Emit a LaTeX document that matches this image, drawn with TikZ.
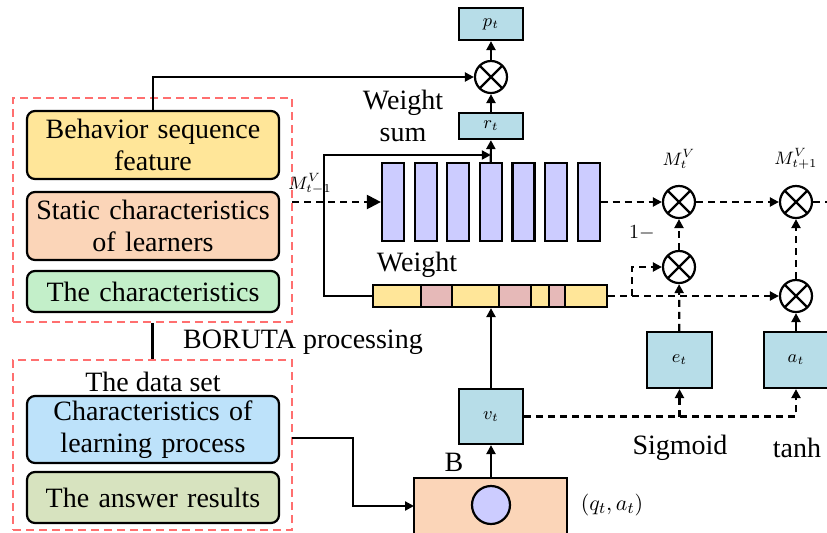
\documentclass[tikz,border=0pt]{standalone}
\usepackage{fontspec}
\setmainfont{Liberation Serif}
\usetikzlibrary{arrows.meta}

\definecolor{featyellow}{HTML}{FFE699}
\definecolor{featpeach}{HTML}{FBD5B8}
\definecolor{featgreen}{HTML}{C3EFC9}
\definecolor{featblue}{HTML}{BDE2FA}
\definecolor{featolive}{HTML}{D7E3BF}
\definecolor{cellblue}{HTML}{B7DDE8}
\definecolor{barpurple}{HTML}{CCCCFF}
\definecolor{segpink}{HTML}{E6B9B8}
\definecolor{redline}{HTML}{FF6F6F}

\tikzstyle{feat} = [draw, rounded corners=4pt, line width=1.1pt, minimum width=126pt, text width=124pt, text centered, inner sep=0pt]
\tikzstyle{group} = [draw=redline, dash pattern=on 4pt off 2.5pt, line width=0.9pt, inner sep=0pt]
\tikzstyle{cell} = [draw, fill=cellblue, line width=1.1pt, inner sep=0pt, font=\fontsize{9}{11}\selectfont]
\tikzstyle{mul} = [draw, circle, line width=1.1pt, minimum size=16pt, inner sep=0pt,
  path picture={\draw[line width=1.1pt] (path picture bounding box.north west) -- (path picture bounding box.south east)
  (path picture bounding box.north east) -- (path picture bounding box.south west);}]
\tikzstyle{bar} = [draw, fill=barpurple, line width=1.1pt, minimum width=11pt, minimum height=39pt, inner sep=0pt]
\tikzstyle{lbl} = [inner sep=0pt, font=\fontsize{9}{11}\selectfont]
\tikzstyle{arr} = [line width=1.1pt, -{Triangle[length=4.5pt,width=4.5pt]}]
\tikzstyle{darr} = [arr, dash pattern=on 3.5pt off 2.5pt]
\tikzstyle{dline} = [line width=1.1pt, dash pattern=on 3.5pt off 2.5pt]

\begin{document}
\begin{tikzpicture}[x=0.5pt, y=-0.5pt, font=\fontsize{14}{16}\selectfont]
\clip (0,0) rectangle (827,532);

% feature groups
\node[group, minimum width=139.5pt, minimum height=112pt] (grp1) at (152.5,210) {};
\node[group, minimum width=139.5pt, minimum height=85pt] (grp2) at (152.5,445) {};
\node[feat, fill=featyellow, minimum height=34pt] (feat1) at (153,145) {Behavior sequence\\feature};
\node[feat, fill=featpeach, minimum height=34pt] (feat2) at (153,226) {Static characteristics\\of learners};
\node[feat, fill=featgreen, minimum height=20.5pt] (feat3) at (153,291.5) {The characteristics};
\node (dset) at (153,382) {The data set};
\node[feat, fill=featblue, minimum height=33.5pt] (feat4) at (153,429.5) {Characteristics of\\learning process};
\node[feat, fill=featolive, minimum height=25.5pt] (feat5) at (153,497.5) {The answer results};
\node (boruta) at (303,342) {BORUTA processing};
\draw[line width=1.1pt] (grp1.south) -- (grp2.north);

% output
\node[cell, minimum width=32pt, minimum height=16pt] (pt) at (491,24) {$p_t$};
\node[mul] (mul0) at (491,77) {};
\node[cell, minimum width=32pt, minimum height=13pt] (rt) at (491,126) {$r_t$};
\node[align=center] (wsum) at (403,116) {Weight\\sum};

% memory bars
\foreach \i in {1,...,7}
  \node[bar] (bar\i) at ({393+32.6*(\i-1)},202) {};
\node[lbl] (mprev) at (310,184) {$M_{t-1}^{V}$};
\coordinate (min) at (292,202);

% weight vector
\foreach \a/\b/\c in {373/421/featyellow, 421/452/segpink, 452/499/featyellow, 499/531/segpink,
  531/549/featyellow, 549/565/segpink, 565/607/featyellow}
  \filldraw[fill=\c, line width=1.1pt] (\a,285) rectangle (\b,307);
\node[draw, line width=1.1pt, minimum width=117pt, minimum height=11pt, inner sep=0pt] (wbar) at (490,296) {};
\node (wlbl) at (417,265) {Weight};

% input
\node[cell, minimum width=32pt, minimum height=27.5pt] (vt) at (491,416.5) {$v_t$};
\node[draw, fill=featpeach, line width=1.1pt, minimum width=76.5pt, minimum height=42pt, inner sep=0pt] (bbox) at (490.5,520) {};
\node[draw, fill=barpurple, circle, line width=1.1pt, minimum size=19pt, inner sep=0pt] (emb) at (491,505) {};
\node (blbl) at (454,462) {B};
\node[lbl, font=\fontsize{11}{13}\selectfont] (qa) at (612,505) {$(q_t,a_t)$};

% gates
\node[mul] (mulA) at (679,202) {};
\node[mul] (mulB) at (796,202) {};
\node[mul] (mulC) at (679,267) {};
\node[mul] (mulD) at (796,296) {};
\node[lbl] (mt) at (679,159) {$M_{t}^{V}$};
\node[lbl] (mnext) at (796,159) {$M_{t+1}^{V}$};
\node[lbl, font=\fontsize{10}{12}\selectfont] (one) at (642,233) {$1-$};
\node[cell, minimum width=32.5pt, minimum height=28pt] (et) at (679.5,360) {$e_t$};
\node[cell, minimum width=32pt, minimum height=28pt] (at) at (796,360) {$a_t$};
\node (sig) at (680,448) {Sigmoid};
\node (tanh) at (797,448) {tanh};
\coordinate (turn) at (324,155);
\coordinate (wb) at (632,296);
\coordinate (mout) at (827,202);
\coordinate (din) at (292,438);
\coordinate (bin) at (414,506);

% connectors
\draw[arr] (feat1.north) |- (mul0);
\draw[arr] (mul0) -- (pt);
\draw[arr] (rt) -- (mul0);
\draw[arr] (wbar.west) -| (turn) -- (bar4.north |- turn);
\draw[arr] (bar4.north) -- (rt);
\draw[darr, -{Triangle[length=7pt,width=7pt]}] (min) -- (bar1.west);
\draw[darr] (bar7.east |- mulA) -- (mulA);
\draw[darr] (mulA) -- (mulB);
\draw[dline] (mulB) -- (mout);
\draw[darr] (mulC) -- (mulA);
\draw[darr] (mulD) -- (mulB);
\draw[darr] (wbar.east) -- (wb) |- (mulC);
\draw[darr] (wb) -- (mulD);
\draw[darr] (et) -- (mulC);
\draw[arr] (at) -- (mulD);
\draw[darr] (vt.east) -| (at.south);
\draw[darr] (vt.east -| et) -- (et.south);
\draw[arr] (vt) -- (vt |- wbar.south);
\draw[arr] (bbox.north -| vt) -- (vt);
\draw[arr] (din) -- ++(61,0) |- (bin);
\end{tikzpicture}
\end{document}
